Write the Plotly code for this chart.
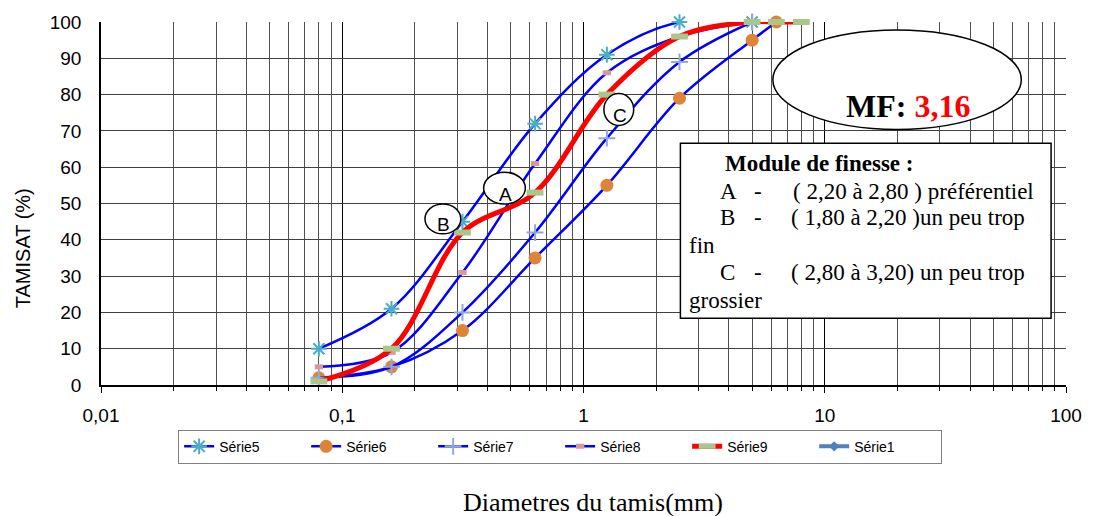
import plotly.graph_objects as go

# ---- data ----
sieves = [0.08, 0.16, 0.315, 0.63, 1.25, 2.5, 5, 6.3, 8]
serie5 = [10, 21, 45, 72, 91, 100, 100]
serie6 = [2, 5, 15, 35, 55, 79, 95, 100]
serie7 = [2, 5, 20, 42, 68, 89, 100]
serie8 = [5, 9, 31, 61, 86, 96, 100]
serie9 = [1, 10, 42, 53, 80, 96, 100, 100, 100]

x_tickvals = [0.01, 0.1, 1, 10, 100]
x_ticktext = ["0,01", "0,1", "1", "10", "100"]
x_minor = [m * 10 ** d for d in (-2, -1, 0, 1) for m in range(2, 10)]

# plot area in pixels: left 101, right 1072, top 20, bottom 385
L, R, T, B = 101, 1072, 20, 385
def px(x):
    return (x - L) / (R - L)
def py(y):
    return (B - y) / (B - T)

fig = go.Figure()

def add(name, xs, ys, lcolor, lwidth, marker):
    fig.add_trace(go.Scatter(
        x=xs[:len(ys)], y=ys, name=name, mode="lines+markers",
        line=dict(color=lcolor, width=lwidth, shape="spline", smoothing=1),
        marker=marker, cliponaxis=False))

add("Série5", sieves, serie5, "#0000FF", 2.5,
    dict(symbol="asterisk-open", size=13, color="#4BACC6", line=dict(width=2, color="#4BACC6")))
add("Série6", sieves, serie6, "#0000FF", 2.5,
    dict(symbol="circle", size=13, color="#DD8439", line=dict(width=0)))
add("Série7", sieves, serie7, "#0000FF", 2.5,
    dict(symbol="cross-thin-open", size=12, color="#8EA9DB", line=dict(width=2, color="#8EA9DB")))
add("Série8", sieves, serie8, "#0000FF", 2.5,
    dict(symbol="line-ew-open", size=6, color="#D49A9F", line=dict(width=5, color="#D49A9F")))
add("Série9", sieves, serie9, "#FF0000", 5,
    dict(symbol="line-ew-open", size=12, color="#A9C78A", line=dict(width=6, color="#A9C78A")))
fig.add_trace(go.Scatter(
    x=[None], y=[None], name="Série1", mode="lines+markers",
    line=dict(color="#4F81BD", width=4),
    marker=dict(symbol="diamond", size=8, color="#4F81BD")))

shapes = []
annotations = []

# small circles A, B, C
for lab, cx, cy, rx, ry in [("A", 507, 187, 21, 16), ("B", 445, 218, 18, 15), ("C", 622, 108, 15, 16)]:
    shapes.append(dict(type="circle", xref="paper", yref="paper",
                       x0=px(cx - rx), x1=px(cx + rx), y0=py(cy + ry), y1=py(cy - ry),
                       fillcolor="white", line=dict(color="black", width=1.5), layer="above"))
    annotations.append(dict(text=lab, xref="paper", yref="paper", x=px(cx + 1), y=py(cy + 6),
                            xanchor="center", yanchor="middle", showarrow=False,
                            font=dict(family="Liberation Sans, Arial", size=19, color="black")))

# MF ellipse
shapes.append(dict(type="circle", xref="paper", yref="paper",
                   x0=px(777), x1=px(1027), y0=py(128), y1=py(28),
                   fillcolor="white", line=dict(color="black", width=1.5), layer="above"))
annotations.append(dict(text="<b>MF: <span style='color:#FF0000'>3,16</span></b>",
                        xref="paper", yref="paper", x=px(913), y=py(104),
                        xanchor="center", yanchor="middle", showarrow=False,
                        font=dict(family="Liberation Serif, Times New Roman", size=32, color="black")))

# text box
shapes.append(dict(type="rect", xref="paper", yref="paper",
                   x0=px(684), x1=px(1057), y0=py(318), y1=py(142),
                   fillcolor="white", line=dict(color="black", width=1.5), layer="above"))
serif = dict(family="Liberation Serif, Times New Roman", size=23, color="black")
box_lines = [
    ("<b>Module de finesse :</b>", 727, 162),
    ("A", 722, 190), ("-", 756, 190), ("( 2,20 à 2,80 ) préférentiel", 795, 190),
    ("B", 722, 217), ("-", 756, 217), ("( 1,80 à 2,20 )un peu trop", 793, 217),
    ("fin", 691, 245),
    ("C", 722, 272), ("-", 756, 272), ("( 2,80 à 3,20) un peu trop", 793, 272),
    ("grossier", 691, 300),
]
for txt, tx, ty in box_lines:
    annotations.append(dict(text=txt, xref="paper", yref="paper", x=px(tx), y=py(ty),
                            xanchor="left", yanchor="middle", showarrow=False, font=serif))

# axis titles
annotations.append(dict(text="TAMISAT (%)", xref="paper", yref="paper", x=px(22), y=py(247),
                        xanchor="center", yanchor="middle", textangle=-90, showarrow=False,
                        font=dict(family="Liberation Sans, Arial", size=20, color="black")))
annotations.append(dict(text="Diametres du tamis(mm)", xref="paper", yref="paper", x=px(596), y=py(503),
                        xanchor="center", yanchor="middle", showarrow=False,
                        font=dict(family="Liberation Serif, Times New Roman", size=26, color="black")))

fig.update_layout(
    width=1094, height=516,
    margin=dict(l=L, r=1094 - R, t=T, b=516 - B),
    paper_bgcolor="white", plot_bgcolor="white",
    shapes=shapes, annotations=annotations,
    showlegend=True,
    legend=dict(orientation="h", x=px(563), xanchor="center", y=py(430), yanchor="top",
                bordercolor="#808080", borderwidth=1, bgcolor="white",
                font=dict(family="Liberation Sans, Arial", size=14, color="black"),
                entrywidth=82, entrywidthmode="pixels"),
    xaxis=dict(type="log", range=[-2, 2], tickvals=x_tickvals, ticktext=x_ticktext,
               showgrid=True, gridcolor="black", gridwidth=1,
               ticks="outside", ticklen=6, tickcolor="black",
               showline=True, linecolor="black", linewidth=1.5, zeroline=False,
               tickfont=dict(family="Liberation Sans, Arial", size=19, color="black"),
               ticklabelstandoff=6,
               minor=dict(tickvals=x_minor, showgrid=True, gridcolor="#505050", gridwidth=1,
                          ticks="outside", ticklen=4, tickcolor="black")),
    yaxis=dict(range=[0, 100], dtick=10, showgrid=True, gridcolor="#404040", gridwidth=1,
               showline=True, linecolor="black", linewidth=1.5, zeroline=False, ticks="",
               tickfont=dict(family="Liberation Sans, Arial", size=19, color="black"),
               ticklabelstandoff=14),
)

fig.write_html("out.html")
